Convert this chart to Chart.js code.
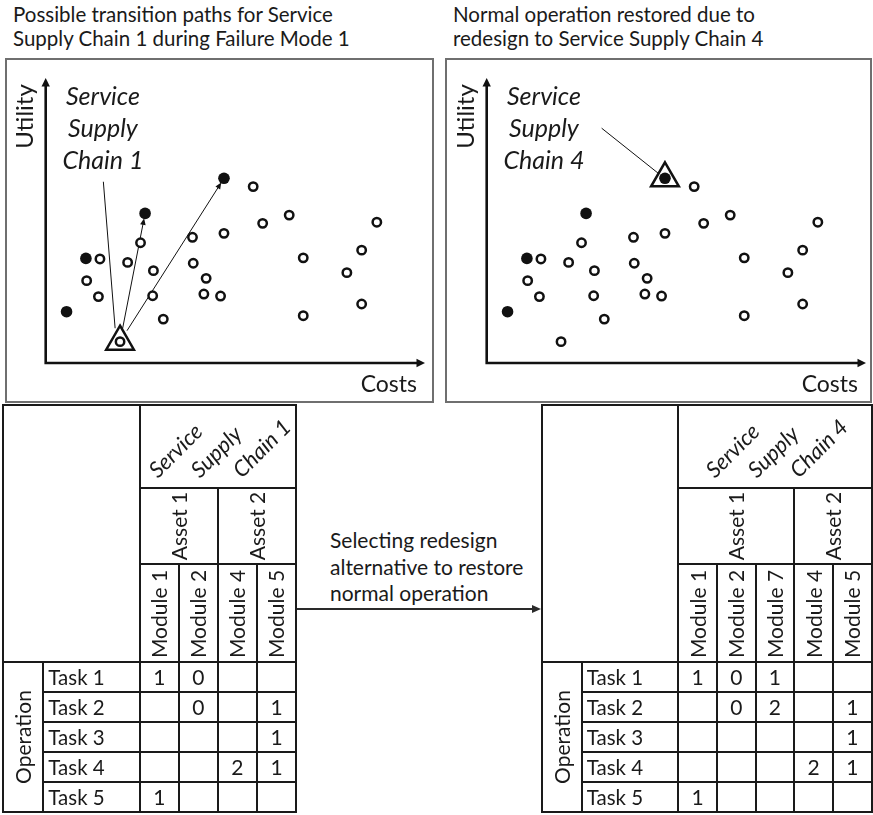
<!DOCTYPE html>
<html>
<head>
<meta charset="utf-8">
<title>Service supply chain redesign</title>
<script src="https://cdn.jsdelivr.net/npm/chart.js@4.4.1/dist/chart.umd.min.js"></script>
<style>
  html, body { margin: 0; padding: 0; background: #fff; }
  body { position: relative; width: 873px; height: 815px; overflow: hidden;
         font-family: Lato, "Open Sans", sans-serif; color: #1a1a1a; }
  .title { position: absolute; top: 2px; font-size: 20.5px; line-height: 24px; white-space: nowrap; }
  .panel { position: absolute; box-sizing: border-box; border: 2px solid #6f6f6f; }
  canvas.plot { position: absolute; }
  .caption { position: absolute; left: 330px; top: 527px; font-size: 21px; line-height: 26.5px; white-space: nowrap; }
  .cell { position: absolute; box-sizing: border-box; border: 2px solid #1a1a1a; }
  .t { position: absolute; white-space: nowrap; font-size: 21px; line-height: 20px; }
  .task { font-size: 20.5px; }
  .diag { font-style: italic; font-size: 22px; transform-origin: 0 18px; transform: rotate(-45deg); }
</style>
</head>
<body>
<div class="title" style="left:13px">Possible transition paths for Service<br>Supply Chain 1 during Failure Mode 1</div>
<div class="title" style="left:453px">Normal operation restored due to<br>redesign to Service Supply Chain 4</div>

<div class="panel" style="left:5px;top:58px;width:429px;height:345px"></div>
<div class="panel" style="left:445px;top:58px;width:427px;height:345px"></div>
<canvas id="ssc1" class="plot" width="429" height="345" style="left:5px;top:58px;width:429px;height:345px"></canvas>
<canvas id="ssc4" class="plot" width="427" height="345" style="left:445px;top:58px;width:427px;height:345px"></canvas>

<div class="caption">Selecting redesign<br>alternative to restore<br>normal operation</div>
<svg style="position:absolute;left:0;top:0" width="873" height="815">
  <line x1="296" y1="609" x2="533" y2="609" stroke="#2a2a2a" stroke-width="1.8"/>
  <polygon points="541,609 532,605 532,613" fill="#2a2a2a"/>
</svg>
<div id="tables"></div>

<script>
// Design alternatives in the cost/utility space (relative units 0..100)
const costAlt = [14.3, 21.6, 10.8, 13.9, 25.0, 28.4, 28.2, 31.0, 19.6, 38.7, 38.9, 42.3,
                 41.7, 46.1, 47.0, 54.7, 57.2, 64.2, 67.9, 67.9, 79.4, 83.3, 83.3, 87.3];
const utilAlt = [36.5, 35.3, 28.9, 23.3, 42.2, 32.4, 23.6, 15.4, 7.5, 44.1, 35.0, 29.7,
                 24.2, 23.5, 45.5, 61.9, 49.0, 51.9, 36.9, 16.6, 31.7, 39.6, 20.7, 49.4];
// Alternatives that restore normal operation under Failure Mode 1
const costRestore = [5.5, 10.6, 26.2, 47.0];
const utilRestore = [18.0, 36.7, 52.5, 64.8];

const axisLabelX = 'Costs';
const axisLabelY = 'Utility';
const chainWordsSSC1 = ['Service', 'Supply', 'Chain 1'];
const chainWordsSSC4 = ['Service', 'Supply', 'Chain 4'];

// Allocation matrices: tasks x modules
const groupLabel = 'Operation';
const tasks = ['Task 1', 'Task 2', 'Task 3', 'Task 4', 'Task 5'];
const assetsSSC1 = ['Asset 1', 'Asset 2'];
const assetSpanSSC1 = [2, 2];
const modulesSSC1 = ['Module 1', 'Module 2', 'Module 4', 'Module 5'];
const allocSSC1 = [
  [1, 0, null, null],
  [null, 0, null, 1],
  [null, null, null, 1],
  [null, null, 2, 1],
  [1, null, null, null]
];
const assetsSSC4 = ['Asset 1', 'Asset 2'];
const assetSpanSSC4 = [3, 2];
const modulesSSC4 = ['Module 1', 'Module 2', 'Module 7', 'Module 4', 'Module 5'];
const allocSSC4 = [
  [1, 0, 1, null, null],
  [null, 0, 2, null, 1],
  [null, null, null, null, 1],
  [null, null, null, 2, 1],
  [1, null, null, null, null]
];

Chart.defaults.font.family = 'Lato, "Open Sans", sans-serif';
const INK = '#111';

function arrowHead(ctx, tx, ty, ang, len, half) {
  const ux = Math.cos(ang), uy = Math.sin(ang);
  ctx.beginPath();
  ctx.moveTo(tx, ty);
  ctx.lineTo(tx - ux * len - uy * half, ty - uy * len + ux * half);
  ctx.lineTo(tx - ux * len + uy * half, ty - uy * len - ux * half);
  ctx.closePath();
  ctx.fill();
}

function decor(spec) {
  return {
    id: 'decor',
    beforeDatasetsDraw(chart) {
      const { ctx, scales: { x, y } } = chart;
      ctx.save();
      ctx.strokeStyle = INK; ctx.fillStyle = INK;
      const ox = x.getPixelForValue(0), oy = y.getPixelForValue(0);
      const ex = x.getPixelForValue(100), ey = y.getPixelForValue(100);
      // axes with arrow tips
      ctx.lineWidth = 2.6;
      ctx.beginPath();
      ctx.moveTo(ox - 1.3, oy); ctx.lineTo(ex - 6, oy);
      ctx.moveTo(ox, oy + 1.3); ctx.lineTo(ox, ey + 6);
      ctx.stroke();
      arrowHead(ctx, ex, oy, 0, 8.5, 4.2);
      arrowHead(ctx, ox, ey, -Math.PI / 2, 8.5, 4.2);

      // transition paths from the current chain
      ctx.lineWidth = 1;
      const cx = x.getPixelForValue(spec.current.x), cy = y.getPixelForValue(spec.current.y);
      spec.targets.forEach(i => {
        const px = x.getPixelForValue(costRestore[i]), py = y.getPixelForValue(utilRestore[i]);
        const d = Math.hypot(px - cx, py - cy), ux = (px - cx) / d, uy = (py - cy) / d;
        const sx = cx + ux * 13, sy = cy + uy * 13;
        const tx = px - ux * 5, ty = py - uy * 5;
        ctx.beginPath();
        ctx.moveTo(sx, sy); ctx.lineTo(tx - ux * 5, ty - uy * 5);
        ctx.stroke();
        arrowHead(ctx, tx, ty, Math.atan2(uy, ux), 6.5, 2.8);
      });

      // callout line from the chain label
      const c = spec.callout;
      ctx.beginPath();
      ctx.moveTo(x.getPixelForValue(c.from[0]), y.getPixelForValue(c.from[1]));
      ctx.lineTo(x.getPixelForValue(c.to[0]), y.getPixelForValue(c.to[1]));
      ctx.stroke();
      ctx.restore();
    },
    afterDraw(chart) {
      const { ctx, chartArea: a, scales: { x, y } } = chart;
      ctx.save();
      ctx.fillStyle = '#1a1a1a';
      ctx.font = '23px Lato, "Open Sans", sans-serif';
      ctx.textAlign = 'right';
      ctx.textBaseline = 'alphabetic';
      ctx.fillText(axisLabelX, a.right - 8, a.bottom + 28.5);

      ctx.save();
      ctx.translate(a.left - 12.5, a.top + 38.5);
      ctx.rotate(-Math.PI / 2);
      ctx.textAlign = 'center';
      ctx.font = '24px Lato, "Open Sans", sans-serif';
      ctx.fillText(axisLabelY, 0, 0);
      ctx.restore();

      ctx.font = 'italic 25px Lato, "Open Sans", sans-serif';
      ctx.textAlign = 'center';
      const lx = x.getPixelForValue(spec.label.x), ly = y.getPixelForValue(spec.label.y);
      spec.words.forEach((w, k) => ctx.fillText(w, lx, ly + k * 32));
      ctx.restore();
    }
  };
}

function panel(id, spec, pad) {
  const alt = costAlt.map((v, i) => ({ x: v, y: utilAlt[i] }));
  const rest = costRestore.map((v, i) => ({ x: v, y: utilRestore[i] }));
  new Chart(document.getElementById(id), {
    type: 'scatter',
    data: {
      datasets: [
        { label: 'current chain', data: [spec.current], pointStyle: 'triangle', pointRadius: 16,
          pointHoverRadius: 16, borderWidth: 2.5, borderColor: INK, backgroundColor: 'rgba(0,0,0,0)', clip: false },
        { label: 'restoring alternatives', data: rest, pointRadius: 5.8, pointHoverRadius: 5.8,
          borderWidth: 0, borderColor: INK, backgroundColor: INK, clip: false },
        { label: 'alternatives', data: alt, pointRadius: 4.2, pointHoverRadius: 4.2, borderWidth: 2.5,
          borderColor: INK, backgroundColor: '#fff', clip: false }
      ]
    },
    options: {
      responsive: false, animation: false, devicePixelRatio: 1,
      layout: { padding: pad, autoPadding: false },
      events: [],
      scales: {
        x: { type: 'linear', min: 0, max: 100, display: false },
        y: { type: 'linear', min: 0, max: 100, display: false }
      },
      plugins: { legend: { display: false }, tooltip: { enabled: false } }
    },
    plugins: [decor(spec)]
  });
}

panel('ssc1', {
  current: { x: costAlt[8], y: utilAlt[8] },
  targets: [2, 3],
  words: chainWordsSSC1,
  label: { x: 15.1, y: 90.5 },
  callout: { from: [15.2, 63.6], to: [18.3, 12.2] }
}, { left: 40.7, right: 9, top: 20, bottom: 40 });

panel('ssc4', {
  current: { x: costRestore[3], y: utilRestore[3] },
  targets: [],
  words: chainWordsSSC4,
  label: { x: 15.1, y: 90.5 },
  callout: { from: [30.3, 82.4], to: [45.2, 66.6] }
}, { left: 41.7, right: 6, top: 20, bottom: 40 });

// ---- allocation tables ----
const root = document.getElementById('tables');
function cell(x0, x1, y0, y1) {
  const d = document.createElement('div');
  d.className = 'cell';
  d.style.left = (x0 - 1) + 'px'; d.style.top = (y0 - 1) + 'px';
  d.style.width = (x1 - x0 + 2) + 'px'; d.style.height = (y1 - y0 + 2) + 'px';
  root.appendChild(d);
}
function text(str, cls) {
  const d = document.createElement('div');
  d.className = 't ' + (cls || '');
  d.textContent = str;
  root.appendChild(d);
  return d;
}
function centered(str, cx, cy, rotate) {
  const d = text(str);
  d.style.left = cx + 'px'; d.style.top = cy + 'px';
  d.style.transform = 'translate(-50%,-50%)' + (rotate ? ' rotate(-90deg)' : '');
  return d;
}

function table(x0, x1, words, assets, spans, modules, alloc) {
  const top = 405, y1 = top + 83.3, y2 = y1 + 76, y3 = y2 + 97.4, rowH = 30.1;
  const xOp = x0 + 40, xTask = x0 + 136.5;
  const mw = (x1 - xTask) / modules.length;
  const mx = j => xTask + j * mw;
  const ty = i => y3 + i * rowH;
  const yEnd = ty(tasks.length);

  cell(x0, xTask, top, y3);
  cell(xTask, x1, top, y1);
  let j0 = 0;
  assets.forEach((a, k) => {
    const j1 = j0 + spans[k];
    cell(mx(j0), mx(j1), y1, y2);
    centered(a, (mx(j0) + mx(j1)) / 2, (y1 + y2) / 2, true);
    j0 = j1;
  });
  modules.forEach((m, j) => {
    cell(mx(j), mx(j + 1), y2, y3);
    const d = centered(m, mx(j) + mw / 2, 0, true);
    d.style.top = (y3 - 4 - d.offsetWidth / 2) + 'px';
  });
  cell(x0, xOp, y3, yEnd);
  centered(groupLabel, (x0 + xOp) / 2, (y3 + yEnd) / 2, true);
  tasks.forEach((t, i) => {
    cell(xOp, xTask, ty(i), ty(i + 1));
    const d = text(t, 'task');
    d.style.left = (xOp + 5) + 'px';
    d.style.top = ((ty(i) + ty(i + 1)) / 2 - 10) + 'px';
    modules.forEach((m, j) => {
      cell(mx(j), mx(j + 1), ty(i), ty(i + 1));
      if (alloc[i][j] !== null) centered(String(alloc[i][j]), mx(j) + mw / 2, (ty(i) + ty(i + 1)) / 2);
    });
  });
  // chain name written diagonally above the modules
  const mid = (xTask + x1) / 2;
  words.forEach((w, k) => {
    const d = text(w, 'diag');
    d.style.left = (mid - 60 + k * 42) + 'px';
    d.style.top = (y1 - 9 - 18) + 'px';
  });
}

table(3.3, 296, chainWordsSSC1, assetsSSC1, assetSpanSSC1, modulesSSC1, allocSSC1);
table(541.7, 871.7, chainWordsSSC4, assetsSSC4, assetSpanSSC4, modulesSSC4, allocSSC4);
</script>
</body>
</html>
